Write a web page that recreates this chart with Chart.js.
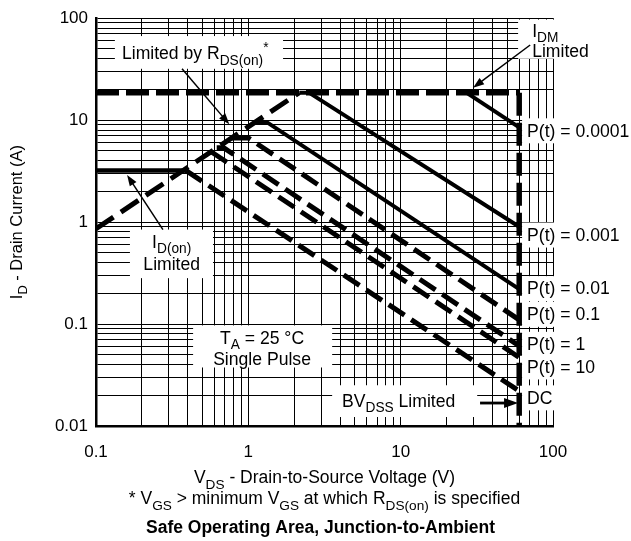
<!DOCTYPE html>
<html>
<head>
<meta charset="utf-8">
<script src="https://cdn.jsdelivr.net/npm/chart.js@4.4.1/dist/chart.umd.min.js"></script>
<style>
  html, body { margin: 0; padding: 0; background: #fff; }
  #wrap { position: relative; width: 631px; height: 541px; }
</style>
</head>
<body>
<div id="wrap"><canvas id="soa"></canvas></div>
<script>
// log grid lines and the labelled decades
const voltGrid = [0.1, 0.2, 0.3, 0.4, 0.5, 0.6, 0.7, 0.8, 0.9,
                  1, 2, 3, 4, 5, 6, 7, 8, 9,
                  10, 20, 30, 40, 50, 60, 70, 80, 90, 100];
const voltLabels = [0.1, 1, 10, 100];
const currGrid = [0.01, 0.02, 0.03, 0.04, 0.05, 0.06, 0.07, 0.08, 0.09,
                  0.1, 0.2, 0.3, 0.4, 0.5, 0.6, 0.7, 0.8, 0.9,
                  1, 2, 3, 4, 5, 6, 7, 8, 9,
                  10, 20, 30, 40, 50, 60, 70, 80, 90, 100];
const currLabels = [0.01, 0.1, 1, 10, 100];

// limit lines (V, A)
const rdsV = [0.1, 2.16];        const rdsI = [0.86, 18.6];
const idmV = [0.1, 60];          const idmI = [18.6, 18.6];
const bvV = [60, 60];            const bvI = [18.6, 0.01];
const idOnV = [0.1, 0.39];       const idOnI = [3.2, 3.2];

// pulse curves
const p00001V = [27, 60];            const p00001I = [18.6, 8.5];
const p0001V = [2.16, 2.5, 60];      const p0001I = [18.6, 18.6, 0.9];
const p001V = [1.1, 1.33, 60];       const p001I = [9.5, 9.5, 0.22];
const p01V = [0.78, 1.0, 60];        const p01I = [6.7, 6.7, 0.11];
const p1V = [0.62, 0.69, 60];        const p1I = [5.35, 5.35, 0.061];
const p10V = [0.57, 60];             const p10I = [4.9, 0.047];
const dcV = [0.39, 60];              const dcI = [3.2, 0.022];

const pulseNames = ['P(t) = 0.0001', 'P(t) = 0.001', 'P(t) = 0.01', 'P(t) = 0.1', 'P(t) = 1', 'P(t) = 10', 'DC'];
const pulseLabelI = [7.95, 0.755, 0.225, 0.126, 0.064, 0.0384, 0.0191];

const FONT = '"Liberation Sans", Arial, Helvetica, sans-serif';
const NOTE_SIZE = 17.6;

// white boxes behind the callouts, in axis units
const boxes = [
  { v1: 0.133, v2: 1.69, i1: 66.8, i2: 31.9 },
  { v1: 59, v2: 250, i1: 97, i2: 40 },
  { v1: 0.167, v2: 0.586, i1: 0.845, i2: 0.282 },
  { v1: 0.434, v2: 3.55, i1: 0.097, i2: 0.0375 },
  { v1: 3.55, v2: 31.8, i1: 0.0251, i2: 0.01225 }
];

const notes = [
  { v: 0.148, i: 45.6, align: 'left', parts: [['Limited by R'], ['DS(on)', 'sub'], ['*', 'sup']] },
  { v: 73, i: 76, align: 'left', parts: [['I'], ['DM', 'sub']] },
  { v: 73, i: 47.7, align: 'left', parts: [['Limited']] },
  { v: 0.314, i: 0.646, align: 'center', parts: [['I'], ['D(on)', 'sub']] },
  { v: 0.314, i: 0.395, align: 'center', parts: [['Limited']] },
  { v: 1.23, i: 0.0735, align: 'center', parts: [['T'], ['A', 'sub'], [' = 25 °C']] },
  { v: 1.23, i: 0.0459, align: 'center', parts: [['Single Pulse']] },
  { v: 4.12, i: 0.0179, align: 'left', parts: [['BV'], ['DSS', 'sub'], [' Limited']] }
];

const arrows = [
  { from: [0.367, 31.9], to: [0.75, 9.1] },
  { from: [70.8, 54.6], to: [29.9, 20.8] },
  { from: [0.275, 0.845], to: [0.16, 2.9] },
  { from: [33.2, 0.0168], to: [59, 0.0168], heavy: true }
];

function pts(vs, is) {
  return vs.map((v, k) => ({ x: v, y: is[k] }));
}

function line(name, vs, is, width, dash) {
  return {
    label: name,
    data: pts(vs, is),
    showLine: true,
    borderColor: '#000',
    borderWidth: width,
    borderDash: dash,
    borderCapStyle: 'butt',
    pointRadius: 0,
    fill: false,
    tension: 0
  };
}

function richWidth(ctx, parts, size, bold) {
  let w = 0;
  parts.forEach(p => {
    ctx.font = (bold ? 'bold ' : '') + (p[1] ? size * 0.78 : size) + 'px ' + FONT;
    w += ctx.measureText(p[0]).width;
  });
  return w;
}

function drawRich(ctx, parts, x, y, size, align, bold) {
  const w = richWidth(ctx, parts, size, bold);
  let cx = align === 'center' ? x - w / 2 : align === 'right' ? x - w : x;
  const base = y + size * 0.36;
  ctx.textAlign = 'left';
  ctx.textBaseline = 'alphabetic';
  ctx.fillStyle = '#000';
  parts.forEach(p => {
    const s = p[1] ? size * 0.78 : size;
    ctx.font = (bold ? 'bold ' : '') + s + 'px ' + FONT;
    const dy = p[1] === 'sub' ? size * 0.3 : p[1] === 'sup' ? -size * 0.42 : 0;
    ctx.fillText(p[0], cx, base + dy);
    cx += ctx.measureText(p[0]).width;
  });
  return w;
}

function arrow(ctx, x1, y1, x2, y2, heavy) {
  const a = Math.atan2(y2 - y1, x2 - x1);
  const len = heavy ? 14 : 11, half = heavy ? 5 : 4;
  ctx.strokeStyle = '#000';
  ctx.fillStyle = '#000';
  ctx.lineWidth = heavy ? 2.8 : 1.5;
  ctx.beginPath();
  ctx.moveTo(x1, y1);
  ctx.lineTo(x2 - Math.cos(a) * len * 0.8, y2 - Math.sin(a) * len * 0.8);
  ctx.stroke();
  ctx.beginPath();
  ctx.moveTo(x2, y2);
  ctx.lineTo(x2 - len * Math.cos(a) + half * Math.sin(a), y2 - len * Math.sin(a) - half * Math.cos(a));
  ctx.lineTo(x2 - len * Math.cos(a) - half * Math.sin(a), y2 - len * Math.sin(a) + half * Math.cos(a));
  ctx.closePath();
  ctx.fill();
}

const soaNotes = {
  id: 'soaNotes',
  beforeDatasetsDraw(chart) {
    const ctx = chart.ctx, sx = chart.scales.x, sy = chart.scales.y;
    ctx.save();
    ctx.fillStyle = '#fff';
    boxes.forEach(b => {
      const x1 = sx.getPixelForValue(b.v1), x2 = sx.getPixelForValue(b.v2);
      const y1 = sy.getPixelForValue(b.i1), y2 = sy.getPixelForValue(b.i2);
      ctx.fillRect(x1, y1, x2 - x1, y2 - y1);
    });
    // boxes behind the P(t) labels
    const lx = sx.getPixelForValue(67.6);
    pulseNames.forEach((name, k) => {
      const y = sy.getPixelForValue(pulseLabelI[k]);
      ctx.font = NOTE_SIZE + 'px ' + FONT;
      const w = ctx.measureText(name).width;
      ctx.fillStyle = '#fff';
      ctx.fillRect(lx - 5, y - 12, w + 10, 25);
    });
    ctx.restore();
  },
  afterDatasetsDraw(chart) {
    const ctx = chart.ctx, sx = chart.scales.x, sy = chart.scales.y, area = chart.chartArea;
    ctx.save();
    notes.forEach(n => {
      drawRich(ctx, n.parts, sx.getPixelForValue(n.v), sy.getPixelForValue(n.i), NOTE_SIZE, n.align);
    });
    const lx = sx.getPixelForValue(67.6);
    pulseNames.forEach((name, k) => {
      drawRich(ctx, [[name]], lx, sy.getPixelForValue(pulseLabelI[k]), NOTE_SIZE, 'left');
    });
    arrows.forEach(a => {
      arrow(ctx, sx.getPixelForValue(a.from[0]), sy.getPixelForValue(a.from[1]),
        sx.getPixelForValue(a.to[0]), sy.getPixelForValue(a.to[1]), a.heavy);
    });

    // axis titles, footnote and caption
    const midX = (area.left + area.right) / 2;
    drawRich(ctx, [['V'], ['DS', 'sub'], [' - Drain-to-Source Voltage (V)']], midX, 477, 17.5, 'center');
    drawRich(ctx, [['* V'], ['GS', 'sub'], [' > minimum V'], ['GS', 'sub'], [' at which R'], ['DS(on)', 'sub'], [' is specified']],
      midX, 498, 17.5, 'center');
    drawRich(ctx, [['Safe Operating Area, Junction-to-Ambient']], midX - 4, 527, 17.5, 'center', true);

    ctx.translate(16, (area.top + area.bottom) / 2);
    ctx.rotate(-Math.PI / 2);
    drawRich(ctx, [['I'], ['D', 'sub'], [' - Drain Current (A)']], 0, 0, 16.5, 'center');
    ctx.restore();
  }
};

new Chart(document.getElementById('soa'), {
  type: 'scatter',
  data: {
    datasets: [
      line('I_DM limit', idmV, idmI, 5.5, [23, 7]),
      line('BV_DSS limit', bvV, bvI, 5.5, [23, 7]),
      line('R_DS(on) limit', rdsV, rdsI, 5, [21, 9]),
      line('I_D(on) limit', idOnV, idOnI, 4.5, []),
      line(pulseNames[0], p00001V, p00001I, 4, []),
      line(pulseNames[1], p0001V, p0001I, 4, []),
      line(pulseNames[2], p001V, p001I, 4, []),
      line(pulseNames[3], p01V, p01I, 5, [19, 8]),
      line(pulseNames[4], p1V, p1I, 5, [19, 8]),
      line(pulseNames[5], p10V, p10I, 5, [19, 8]),
      line(pulseNames[6], dcV, dcI, 5, [19, 8])
    ]
  },
  options: {
    responsive: true,
    maintainAspectRatio: false,
    animation: false,
    events: [],
    layout: { padding: { top: 15, right: 78, left: 0, bottom: 0 } },
    plugins: {
      legend: { display: false },
      tooltip: { enabled: false },
      title: { display: false }
    },
    scales: {
      x: {
        type: 'logarithmic',
        position: 'bottom',
        min: 0.1,
        max: 100,
        afterBuildTicks: s => { s.ticks = voltGrid.map(v => ({ value: v })); },
        afterFit: s => { s.height = 115; },
        ticks: {
          autoSkip: false,
          maxRotation: 0,
          padding: 16,
          color: '#000',
          font: { family: FONT, size: 17 },
          callback: v => voltLabels.includes(v) ? String(v) : ''
        },
        grid: { color: '#000', lineWidth: 1, drawTicks: false },
        border: { color: '#000', width: 2.5 }
      },
      y: {
        type: 'logarithmic',
        position: 'left',
        min: 0.01,
        max: 100,
        afterBuildTicks: s => { s.ticks = currGrid.map(v => ({ value: v })); },
        afterFit: s => { s.width = 96; },
        ticks: {
          autoSkip: false,
          padding: 8,
          color: '#000',
          font: { family: FONT, size: 17 },
          callback: v => currLabels.includes(v) ? String(v) : ''
        },
        grid: { color: '#000', lineWidth: 1, drawTicks: false },
        border: { color: '#000', width: 2.5 }
      }
    }
  },
  plugins: [soaNotes]
});
</script>
</body>
</html>
